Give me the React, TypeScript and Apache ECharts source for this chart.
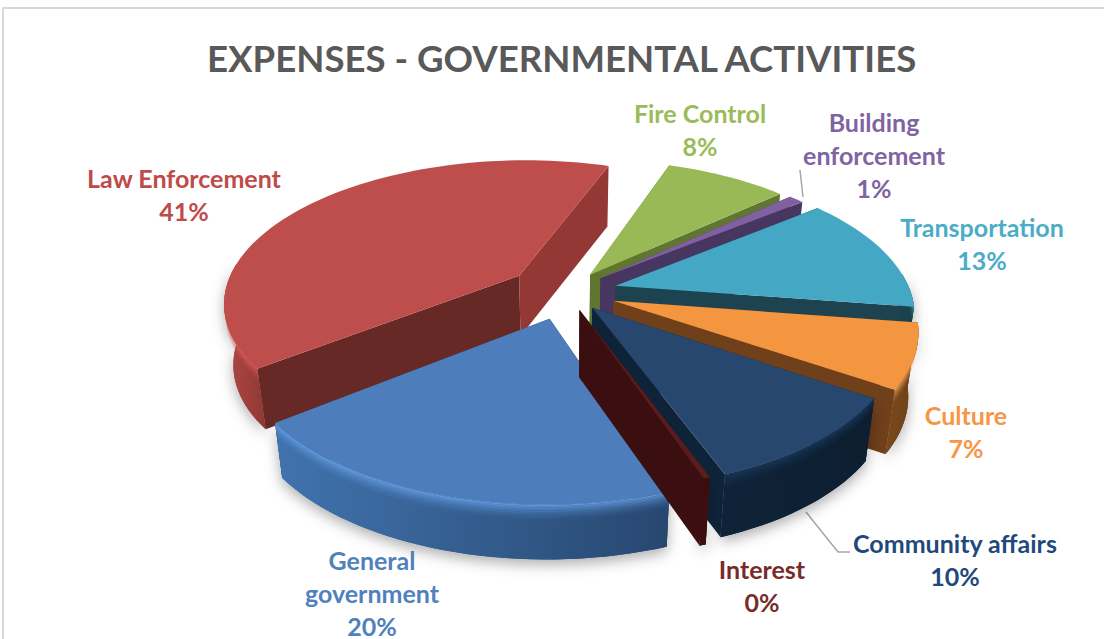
import React, { useEffect, useRef } from "react";
import * as echarts from "echarts";

const categories = ["General government", "Law Enforcement", "Fire Control", "Building enforcement", "Transportation", "Culture", "Community affairs", "Interest"];
const values = [20, 41, 8, 1, 13, 7, 10, 0.3];
const percents = ["20%", "41%", "8%", "1%", "13%", "7%", "10%", "0%"];

const titleText = "EXPENSES - GOVERNMENTAL ACTIVITIES";
const explode = [0.19, 0.2, 0.15, 0.155, 0.175, 0.17, 0.14, 0.13];
const depthScale = [0.98, 1.08, 1, 1, 1, 1.15, 1.12, 1.2];
const drawOrder = [1, 2, 3, 4, 5, 6, 0, 7];
const topColors = ["#4d7ebb", "#bd4e4b", "#98b955", "#8160a2", "#44a8c4", "#f49540", "#27476f", "#5a1c1c"];
const wallLight = ["#4173ae", "#b04845", "#66802f", "#4b3a63", "#1e4450", "#7a4a1c", "#0f2338", "#3b0f0f"];
const wallDark = ["#27476f", "#8f3835", "#5c742d", "#43345a", "#1b3f4b", "#6c3f18", "#0d1e30", "#3b0f0f"];
const rightWall = ["#27476f", "#943835", "#5f7530", "#47365f", "#1d4350", "#6f401a", "#0f2338", "#3b0f0f"];
const leftWall = ["#27476f", "#662926", "#6a8a33", "#4d3a66", "#1d4350", "#6f401a", "#0f2338", "#3b0f0f"];
const bevelColors = ["#6ba6ee", "#e0605c", "#aacb66", "#9a78c0", "#4fbcd8", "#ffb060", "#1c3a5c", "#3b0f0f"];
const labelColors = ["#4f81bd", "#be4b48", "#9bbb59", "#8064a2", "#4bacc6", "#f79646", "#1f497d", "#772c2a"];
const labelPos: [number, number][] = [[372, 593], [184, 194], [700, 129], [874, 155], [982, 243], [966, 431], [955, 559], [762, 585]];
const labelLines: [number, number][][] = [
  [[800, 170], [803, 197]],
  [[806, 512], [838, 552], [850, 552]],
];

const CX = 566, CY = 292, R = 295, Q = 0.48, P = 0.18, DEPTH = 56, LEAN = 0.025;
const START_DEG = 19.5 - (41 / 100.3) * 360 - (20 / 100.3) * 360;
const FRONT_FROM = (85 * Math.PI) / 180;
const FRONT_TO = (275 * Math.PI) / 180;

function project(x: number, y: number, z: number): number[] {
  const k = 1 / (1 - P * y);
  const lean = 1 - LEAN * z;
  return [CX + R * x * k * lean, CY + R * Q * y * k + DEPTH * z];
}

function arcPoints(a0: number, a1: number, bis: number, e: number, r: number, z: number): number[][] {
  const n = Math.max(2, Math.ceil(Math.abs(a1 - a0) / (Math.PI / 90)));
  const out: number[][] = [];
  for (let i = 0; i <= n; i++) {
    const a = a0 + ((a1 - a0) * i) / n;
    out.push(project(e * Math.sin(bis) + r * Math.sin(a), -e * Math.cos(bis) - r * Math.cos(a), z));
  }
  return out;
}

function frontRange(a0: number, a1: number): [number, number] | null {
  for (let k = -1; k <= 1; k++) {
    const lo = Math.max(a0, FRONT_FROM + k * 2 * Math.PI);
    const hi = Math.min(a1, FRONT_TO + k * 2 * Math.PI);
    if (hi > lo) return [lo, hi];
  }
  return null;
}

function renderSlice(_params: any, api: any) {
  const idx = api.value(1);
  const total = values.reduce((s, v) => s + v, 0);
  let before = 0;
  for (let i = 0; i < idx; i++) before += values[i];
  const a0 = ((START_DEG + (before / total) * 360) * Math.PI) / 180;
  const a1 = a0 + (api.value(0) / total) * 2 * Math.PI;
  const bis = (a0 + a1) / 2;
  const e = explode[idx];
  const ds = depthScale[idx];
  const apex = (z: number) => project(e * Math.sin(bis), -e * Math.cos(bis), z);
  const top = arcPoints(a0, a1, bis, e, 1, 0);
  const bottom = arcPoints(a0, a1, bis, e, 1, ds);
  const poly = (points: number[][], style: any) => ({ type: "polygon", shape: { points }, style, silent: true });
  const children: any[] = [];
  const front = frontRange(a0, a1);
  const strip = front
    ? [...arcPoints(front[0], front[1], bis, e, 1, 0), ...arcPoints(front[0], front[1], bis, e, 1, ds).reverse()]
    : null;
  const wallFill = new echarts.graphic.LinearGradient(0, 0, 1, 0, [
    { offset: 0, color: wallLight[idx] },
    { offset: 1, color: wallDark[idx] },
  ]);
  if (strip) {
    children.push(poly(strip, { fill: wallFill, shadowColor: "rgba(0,0,0,0.32)", shadowBlur: 14, shadowOffsetY: 5 }));
  }
  children.push(poly([apex(0), top[0], bottom[0], apex(ds)], { fill: leftWall[idx] }));
  children.push(poly([apex(0), top[top.length - 1], bottom[bottom.length - 1], apex(ds)], { fill: rightWall[idx] }));
  if (front && strip) {
    children.push(poly(strip, { fill: wallFill }));
    const layers = 12;
    for (let l = 0; l < layers; l++) {
      const z0 = (l * 0.32) / layers;
      const z1 = ((l + 1) * 0.32) / layers;
      children.push(
        poly([...arcPoints(front[0], front[1], bis, e, 1, z0), ...arcPoints(front[0], front[1], bis, e, 1, z1).reverse()], {
          fill: bevelColors[idx],
          opacity: 0.8 * (1 - l / layers) * (1 - l / layers),
        })
      );
    }
  }
  children.push(poly([apex(0), ...top], { fill: topColors[idx] }));
  return { type: "group", children };
}

export default function App() {
  const ref = useRef<HTMLDivElement>(null);
  useEffect(() => {
    const chart = echarts.init(ref.current!, undefined, { renderer: "svg" });
    const labels = categories.map((c, i) => ({
      type: "text",
      x: labelPos[i][0],
      y: labelPos[i][1],
      silent: true,
      z: 100,
      style: {
        text: (c === "General government" ? "General\ngovernment" : c === "Building enforcement" ? "Building\nenforcement" : c) + "\n" + percents[i],
        fill: labelColors[i],
        font: "bold 25px Lato",
        lineHeight: 33,
        align: "center",
        verticalAlign: "middle",
      },
    }));
    chart.setOption({
      animation: false,
      backgroundColor: "#ffffff",
      title: {
        text: titleText,
        left: 202,
        top: 34,
        textStyle: { fontFamily: "Lato", fontWeight: "bold", fontSize: 36.6, color: "#595959" },
      },
      graphic: [
        { type: "rect", shape: { x: 3, y: 8, width: 1200, height: 700 }, style: { fill: "none", stroke: "#d9d9d9", lineWidth: 2 }, silent: true, z: -10 },
        ...labelLines.map((points) => ({
          type: "polyline",
          shape: { points },
          style: { stroke: "#a6a6a6", lineWidth: 1.5, fill: "none" },
          silent: true,
        })),
        ...labels,
      ],
      series: [
        {
          type: "custom",
          coordinateSystem: "none",
          silent: true,
          renderItem: renderSlice,
          data: drawOrder.map((i) => [values[i], i]),
        },
      ],
    });
    return () => chart.dispose();
  }, []);
  return <div ref={ref} style={{ position: "fixed", left: 0, top: 0, width: 1104, height: 639 }} />;
}
